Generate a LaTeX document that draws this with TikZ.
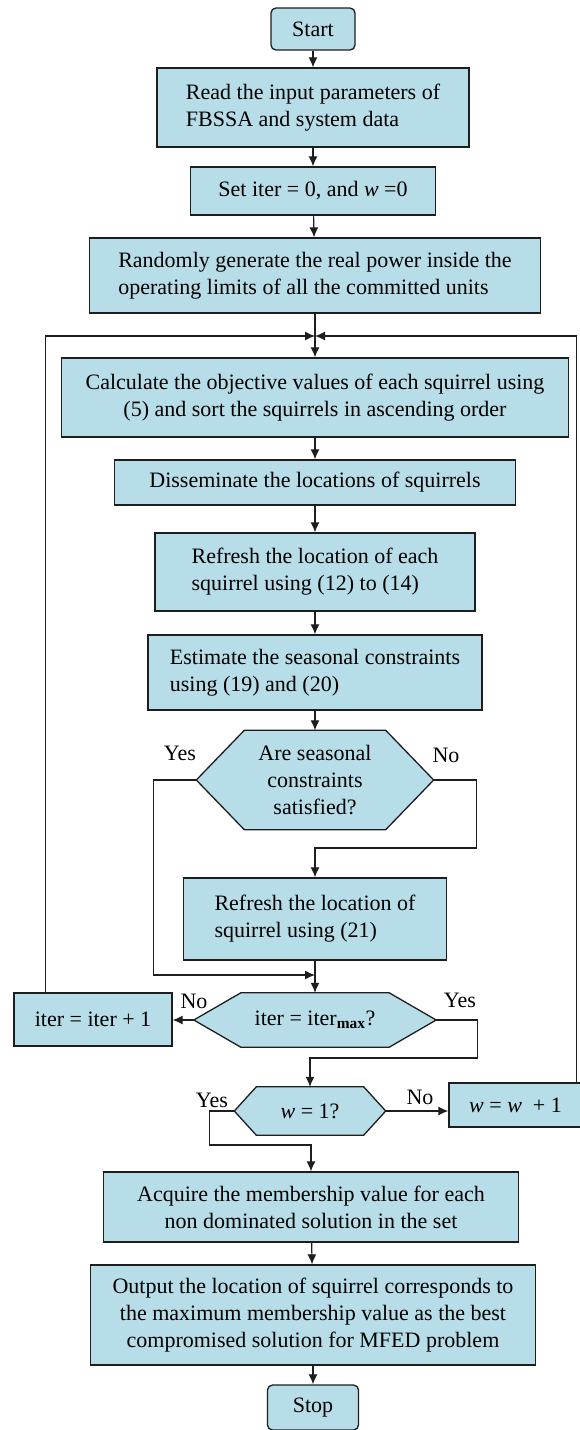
\documentclass[tikz,border=0pt]{standalone}
\usepackage{fontspec}
\setmainfont{Liberation Serif}
\usetikzlibrary{arrows.meta,backgrounds}
\definecolor{boxblue}{HTML}{B7DDE8}
\definecolor{edge}{HTML}{1E1E1E}

\tikzset{
  box/.style={draw=edge,fill=boxblue,line width=1.3pt,inner sep=0pt,align=left},
  term/.style={box,rounded corners=5pt},
  hexa/.style={inner sep=0pt,align=center},
  hexline/.style={draw=edge,fill=boxblue,line width=1.3pt,line join=miter},
  lab/.style={inner sep=0pt},
  flow/.style={draw=edge,line width=1.2pt}
}
\newcommand\hexdraw[2]{\draw[hexline] (#1.west) -- ([xshift=#2]#1.north west) -- ([xshift=-#2]#1.north east) -- (#1.east) -- ([xshift=-#2]#1.south east) -- ([xshift=#2]#1.south west) -- cycle;}

\begin{document}
\begin{tikzpicture}[>={Latex[length=10pt,width=9pt]},x=1pt,y=-1pt,font=\fontsize{22}{27}\selectfont]
\useasboundingbox (0,0) rectangle (580,1430);
\begin{scope}[on background layer]
\fill[white] (0,0) rectangle (580,1430);
\end{scope}

\node[term,minimum width=84pt,minimum height=42pt] (start) at (313,29) {Start};
\node[box,minimum width=312pt,minimum height=79pt] (read) at (313,107.5) {Read the input parameters of\\FBSSA and system data};
\node[box,minimum width=245pt,minimum height=48pt] (set) at (313,191) {Set iter = 0, and \textit{w} =0};
\node[box,minimum width=451pt,minimum height=75pt] (rand) at (315,275.5) {Randomly generate the real power inside the\\operating limits of all the committed units};
\coordinate (mrg) at (315,336);
\node[box,align=center,minimum width=507pt,minimum height=79pt] (calc) at (315,397.5) {Calculate the objective values of each squirrel using\\(5) and sort the squirrels in ascending order};
\node[box,minimum width=401pt,minimum height=45pt] (diss) at (315,482.5) {Disseminate the locations of squirrels};
\node[box,minimum width=320pt,minimum height=78pt] (ref1) at (315,572) {Refresh the location of each\\squirrel using (12) to (14)};
\node[box,minimum width=334pt,minimum height=75pt] (est) at (315,672.5) {Estimate the seasonal constraints\\using (19) and (20)};
\node[hexa,minimum width=237pt,minimum height=99pt] (dec1) at (315,780) {Are seasonal\\constraints\\satisfied?};
\node[box,minimum width=263pt,minimum height=82pt] (ref2) at (315,919) {Refresh the location of\\squirrel using (21)};
\coordinate (mrg2) at (315,975);
\node[hexa,minimum width=242pt,minimum height=54pt] (dec2) at (315,1020) {iter = iter\textsubscript{\textbf{max}}?};
\node[box,align=center,minimum width=158pt,minimum height=53pt] (iter) at (93,1019.5) {iter = iter + 1};
\node[hexa,minimum width=151pt,minimum height=48pt] (w1) at (310,1111) {\textit{w} = 1?};
\node[box,align=center,minimum width=133pt,minimum height=44pt] (wbox) at (515.5,1105) {\textit{w} = \textit{w}\ \ + 1};
\node[box,align=center,minimum width=415pt,minimum height=70pt] (acq) at (311,1207) {Acquire the membership value for each\\non dominated solution in the set};
\node[box,align=center,minimum width=445pt,minimum height=100pt] (out) at (313,1315) {Output the location of squirrel corresponds to\\the maximum membership value as the best\\compromised solution for MFED problem};
\node[term,minimum width=91pt,minimum height=45pt] (stop) at (313,1407.5) {Stop};

\begin{scope}[on background layer]
\hexdraw{dec1}{48pt}
\hexdraw{dec2}{47pt}
\hexdraw{w1}{22pt}
\end{scope}

\node[lab] (yes1) at (180,753) {Yes};
\node[lab] (no1) at (446,755) {No};
\node[lab] (no2) at (194,1001) {No};
\node[lab] (yes2) at (460,1000) {Yes};
\node[lab] (yes3) at (212,1100) {Yes};
\node[lab] (no3) at (420,1097) {No};

\draw[flow,->] (start) -- (read);
\draw[flow,->] (read) -- (set);
\draw[flow,->] (set) -- (rand);
\draw[flow,->] (rand) -- (calc);
\draw[flow,->] ([xshift=32pt]iter.north west) |- (mrg);
\draw[flow,->] ([xshift=128pt]wbox.north west) |- (mrg);
\draw[flow,->] (calc) -- (diss);
\draw[flow,->] (diss) -- (ref1);
\draw[flow,->] (ref1) -- (est);
\draw[flow,->] (est) -- (dec1);
\draw[flow,->] (dec1.west) -- ++(-43,0) |- (mrg2);
\draw[flow,->] (dec1.east) -- ++(43,0) -- ++(0,68) -| (ref2.north);
\draw[flow,->] (ref2) -- (dec2);
\draw[flow,->] (dec2.west) -- (dec2.west -| iter.east);
\draw[flow,->] (dec2.east) -- ++(41,0) -- ++(0,38) -| (w1.north);
\draw[flow,->] (w1.east) -- (w1.east -| wbox.west);
\draw[flow,->] (w1.west) -- ++(-25,0) -- ++(0,34) -| (acq.north);
\draw[flow,->] (acq) -- (out);
\draw[flow,->] (out) -- (stop);
\end{tikzpicture}
\end{document}
